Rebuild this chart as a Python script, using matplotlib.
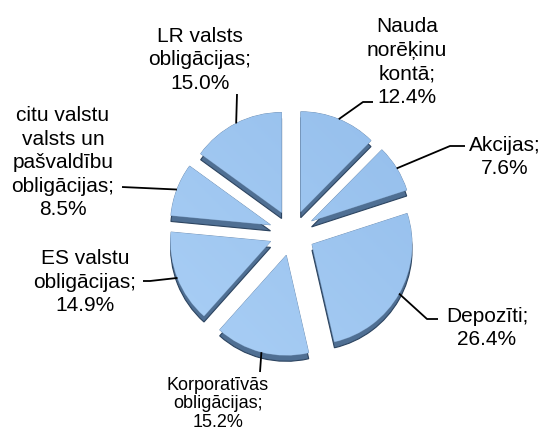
import numpy as np
import matplotlib.pyplot as plt
from matplotlib.colors import LinearSegmentedColormap

plt.rcParams['font.family'] = ['Liberation Sans', 'DejaVu Sans']

labels = ["Nauda\nnorēķinu\nkontā", "Akcijas", "Depozīti",
          "Korporatīvās\nobligācijas", "ES valstu\nobligācijas",
          "citu valstu\nvalsts un\npašvaldību\nobligācijas",
          "LR valsts\nobligācijas"]
shares = [12.4, 7.6, 26.4, 15.2, 14.9, 8.5, 15.0]

# label layout in pixels: text centre, leader elbow, leader end
text_px = [(407, 62), (505, 157), (487, 328), (218, 404), (85, 282), (63, 163), (200, 60)]
elbow_px = [(363, 103), (450, 147), (427, 320), (260, 373), (150, 282), (122, 188), (237, 95)]
end_px = [(373, 103), (465, 147), (438, 320), (260, 373), (143, 282), (122, 188), (237, 95)]
font_sizes = [15, 15, 15, 13, 15, 15, 15]

CX, CY, SCALE = 292, 234, 100.0


def px2d(p):
    return ((p[0] - CX) / SCALE, (CY - p[1]) / SCALE)


fig = plt.figure(figsize=(5.45, 4.35), dpi=100)
ax = fig.add_axes([0, 0, 1, 1])

explode = [0.23] * len(shares)
depth = 0.06

# side of the slices (3d thickness)
sides, _ = ax.pie(shares, startangle=90, counterclock=False, explode=explode,
                  center=(0, -depth), colors=['#4f6f93'] * len(shares),
                  wedgeprops=dict(edgecolor='#2c4460', linewidth=0.8))
tops, _ = ax.pie(shares, startangle=90, counterclock=False, explode=explode,
                 colors=['#9fc6f0'] * len(shares),
                 wedgeprops=dict(edgecolor='#6f8fb3', linewidth=0.6))

cmap = LinearSegmentedColormap.from_list('sl', ['#abd0f6', '#93bdeb'])
grad = np.add.outer(np.linspace(1, 0, 200), np.linspace(0, 1, 200)) / 2
for w in tops:
    im = ax.imshow(grad, cmap=cmap, extent=(-1.4, 1.4, -1.4, 1.4),
                   origin='upper', zorder=w.get_zorder() + 0.1)
    im.set_clip_path(w)

for i, w in enumerate(tops):
    theta = np.deg2rad((w.theta1 + w.theta2) / 2)
    cx, cy = w.center
    anchor = (cx + w.r * np.cos(theta), cy + w.r * np.sin(theta))
    ex, ey = px2d(elbow_px[i])
    nx, ny = px2d(end_px[i])
    ax.plot([anchor[0], ex, nx], [anchor[1], ey, ny], color='black', lw=1.3,
            zorder=5, solid_capstyle='butt')
    tx, ty = px2d(text_px[i])
    ax.text(tx, ty, f"{labels[i]};\n{shares[i]:.1f}%", ha='center', va='center',
            fontsize=font_sizes[i], linespacing=1.3 if font_sizes[i] > 13 else 1.15,
            zorder=6)

ax.set_xlim(-CX / SCALE, (545 - CX) / SCALE)
ax.set_ylim((CY - 435) / SCALE, CY / SCALE)
ax.set_aspect('equal')
ax.axis('off')

fig.savefig('out.png', dpi=100)
